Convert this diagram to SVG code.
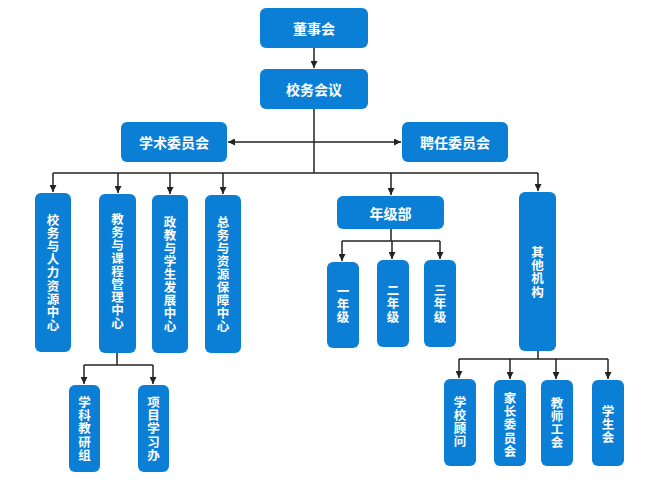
<svg xmlns="http://www.w3.org/2000/svg" width="656" height="480" viewBox="0 0 656 480">
<defs>
<marker id="ah" viewBox="0 0 10 10" refX="10" refY="5" markerWidth="7" markerHeight="7" markerUnits="userSpaceOnUse" orient="auto-start-reverse">
<path d="M0,0 L10,5 L0,10 z" fill="#222"/>
</marker>
<style>
.b{fill:#0b7fd6;}
.t{fill:#fff;font-family:"Noto Sans CJK SC","Liberation Sans",sans-serif;font-weight:bold;font-size:14px;text-anchor:middle;dominant-baseline:central;}
.v{fill:#fff;font-family:"Noto Sans CJK SC","Liberation Sans",sans-serif;font-weight:bold;font-size:12.5px;letter-spacing:0.6px;text-anchor:middle;writing-mode:vertical-rl;dominant-baseline:central;}
.c{fill:none;stroke:#222;stroke-width:1.5;}
</style>
</defs>
<rect width="656" height="480" fill="#fff"/>
<g id="connectors" class="c">
<line x1="314" y1="48" x2="314" y2="68" marker-end="url(#ah)"/>
<line x1="314" y1="109" x2="314" y2="173"/>
<line x1="228" y1="142" x2="401" y2="142" marker-start="url(#ah)" marker-end="url(#ah)"/>
<line x1="53" y1="173" x2="538" y2="173"/>
<line x1="53" y1="173" x2="53" y2="192" marker-end="url(#ah)"/>
<line x1="118" y1="173" x2="118" y2="193" marker-end="url(#ah)"/>
<line x1="170" y1="173" x2="170" y2="194" marker-end="url(#ah)"/>
<line x1="223" y1="173" x2="223" y2="194" marker-end="url(#ah)"/>
<line x1="391" y1="173" x2="391" y2="195" marker-end="url(#ah)"/>
<line x1="538" y1="173" x2="538" y2="191" marker-end="url(#ah)"/>
<line x1="117" y1="353" x2="117" y2="365"/>
<line x1="84" y1="365" x2="153" y2="365"/>
<line x1="84" y1="365" x2="84" y2="384" marker-end="url(#ah)"/>
<line x1="153" y1="365" x2="153" y2="384" marker-end="url(#ah)"/>
<line x1="391" y1="229" x2="391" y2="241"/>
<line x1="342" y1="241" x2="440" y2="241"/>
<line x1="342" y1="241" x2="342" y2="261" marker-end="url(#ah)"/>
<line x1="392" y1="241" x2="392" y2="259" marker-end="url(#ah)"/>
<line x1="440" y1="241" x2="440" y2="259" marker-end="url(#ah)"/>
<line x1="538" y1="351" x2="538" y2="359"/>
<line x1="459" y1="359" x2="608" y2="359"/>
<line x1="459" y1="359" x2="459" y2="378" marker-end="url(#ah)"/>
<line x1="510" y1="359" x2="510" y2="379" marker-end="url(#ah)"/>
<line x1="556" y1="359" x2="556" y2="379" marker-end="url(#ah)"/>
<line x1="608" y1="359" x2="608" y2="379" marker-end="url(#ah)"/>
</g>
<g id="n-dongshihui"><rect class="b" x="260" y="8" width="108" height="40" rx="6"/><text class="t" x="314" y="28">董事会</text></g>
<g id="n-xiaowuhuiyi"><rect class="b" x="260" y="69" width="108" height="40" rx="6"/><text class="t" x="314" y="89">校务会议</text></g>
<g id="n-xueshu"><rect class="b" x="121" y="122" width="106" height="40" rx="6"/><text class="t" x="174" y="142">学术委员会</text></g>
<g id="n-pinren"><rect class="b" x="402" y="122" width="106" height="40" rx="6"/><text class="t" x="455" y="142">聘任委员会</text></g>
<g id="n-c1"><rect class="b" x="35" y="193" width="36" height="159" rx="6"/><text class="v" x="53" y="273">校务与人力资源中心</text></g>
<g id="n-c2"><rect class="b" x="99" y="194" width="37" height="159" rx="6"/><text class="v" x="117.5" y="271.5">教务与课程管理中心</text></g>
<g id="n-c3"><rect class="b" x="152" y="195" width="36" height="158" rx="6"/><text class="v" x="170" y="274.5">政教与学生发展中心</text></g>
<g id="n-c4"><rect class="b" x="205" y="195" width="36" height="158" rx="6"/><text class="v" x="223" y="274.5">总务与资源保障中心</text></g>
<g id="n-nianjibu"><rect class="b" x="337" y="196" width="107" height="33" rx="6"/><text class="t" x="390.5" y="212.5">年级部</text></g>
<g id="n-qita"><rect class="b" x="519" y="192" width="37" height="159" rx="6"/><text class="v" x="537.5" y="272.5">其他机构</text></g>
<g id="n-g1"><rect class="b" x="327" y="262" width="32" height="86" rx="6"/><text class="v" x="343" y="304.5">一年级</text></g>
<g id="n-g2"><rect class="b" x="377" y="260" width="32" height="87" rx="6"/><text class="v" x="393" y="304">二年级</text></g>
<g id="n-g3"><rect class="b" x="424" y="260" width="32" height="87" rx="6"/><text class="v" x="440" y="304">三年级</text></g>
<g id="n-xueke"><rect class="b" x="69" y="385" width="31" height="87" rx="6"/><text class="v" x="84.5" y="429">学科教研组</text></g>
<g id="n-xiangmu"><rect class="b" x="138" y="385" width="31" height="87" rx="6"/><text class="v" x="153.5" y="429">项目学习办</text></g>
<g id="n-guwen"><rect class="b" x="444" y="379" width="32" height="87" rx="6"/><text class="v" x="460" y="422">学校顾问</text></g>
<g id="n-jiazhang"><rect class="b" x="494" y="380" width="32" height="86" rx="6"/><text class="v" x="510" y="425">家长委员会</text></g>
<g id="n-gonghui"><rect class="b" x="541" y="380" width="32" height="86" rx="6"/><text class="v" x="557" y="423">教师工会</text></g>
<g id="n-xueshenghui"><rect class="b" x="592" y="380" width="32" height="86" rx="6"/><text class="v" x="608" y="424.5">学生会</text></g>
</svg>
